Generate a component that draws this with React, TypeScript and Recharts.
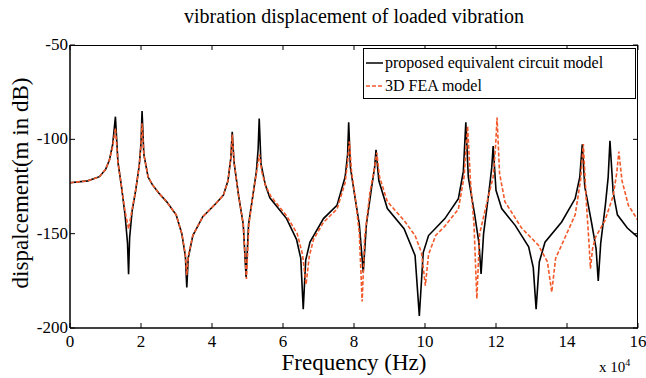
import React from "react";
import { LineChart, Line, XAxis, YAxis } from "recharts";

// frequency in units of 1e4 Hz, displacement in dB
const circuitFreq = [
  0, 0.5, 0.83, 1.0, 1.11, 1.2, 1.28, 1.35, 1.45, 1.55, 1.62, 1.65, 1.68, 1.75, 1.85, 1.95, 2.0, 2.03,
  2.08, 2.2, 2.32, 2.5, 2.72, 2.99, 3.15, 3.25, 3.29, 3.33, 3.46, 3.74, 4.11, 4.32, 4.45, 4.53, 4.57,
  4.62, 4.75, 4.88, 4.96, 5.03, 5.15, 5.25, 5.3, 5.33, 5.38, 5.5, 5.63, 6.1, 6.38, 6.5, 6.57, 6.64,
  6.76, 7.14, 7.52, 7.75, 7.82, 7.85, 7.9, 8.03, 8.15, 8.26, 8.35, 8.5, 8.58, 8.62, 8.7, 8.94, 9.41,
  9.72, 9.84, 9.95, 10.1, 10.56, 10.94, 11.08, 11.15, 11.22, 11.4, 11.52, 11.58, 11.65, 11.8, 11.88,
  11.92, 12.0, 12.16, 12.54, 12.92, 13.05, 13.13, 13.22, 13.38, 13.85, 14.23, 14.36, 14.43, 14.5,
  14.7, 14.82, 14.88, 14.95, 15.08, 15.16, 15.21, 15.3, 15.42, 15.7, 16,
];
const circuitDb = [
  -123, -122, -119.8, -116, -111, -103, -88, -112, -125, -140, -155, -171.5, -152, -138, -127, -114, -102, -85,
  -108, -120, -124, -128.5, -133, -140, -150, -162, -178.5, -163, -151, -141, -134, -129.6, -122, -110, -96,
  -112, -130, -145, -173, -145, -130, -117, -105, -89, -113, -124, -131, -142, -153, -163, -190, -164,
  -154.5, -142, -135, -120, -108, -91, -115, -131, -145, -170.5, -145, -125, -115, -105.6, -122, -136.7, -147.4,
  -161.6, -193.6, -160, -151, -142, -131.4, -117, -91, -120, -140, -155, -171.4, -150, -128, -115,
  -103.5, -127, -136.7, -145.6, -157, -168, -190, -165, -154.5, -143.8, -131.4, -120, -102.6, -125,
  -145, -158, -175, -155, -135, -120, -100.8, -128, -140, -147, -152,
];

const feaFreq = [
  0, 0.5, 0.83, 1.0, 1.11, 1.2, 1.28, 1.35, 1.45, 1.55, 1.65, 1.75, 1.85, 1.95, 2.0, 2.03,
  2.08, 2.2, 2.32, 2.5, 2.72, 2.99, 3.15, 3.25, 3.29, 3.33, 3.46, 3.74, 4.11, 4.32, 4.45, 4.53, 4.57,
  4.62, 4.75, 4.88, 4.97, 5.04, 5.15, 5.25, 5.3, 5.34, 5.4, 5.5, 5.65, 6.1, 6.4, 6.55, 6.65, 6.74,
  6.86, 7.14, 7.52, 7.75, 7.82, 7.87, 7.93, 8.05, 8.15, 8.23, 8.3, 8.45, 8.58, 8.64, 8.72, 8.94, 9.41,
  9.72, 9.9, 10.01, 10.1, 10.3, 10.56, 10.94, 11.1, 11.2, 11.28, 11.38, 11.46, 11.54, 11.75, 11.92,
  11.99, 12.03, 12.1, 12.25, 12.72, 13.19, 13.45, 13.57, 13.68, 13.85, 14.23, 14.38, 14.46, 14.55,
  14.62, 14.66, 14.72, 14.8, 15.07, 15.3, 15.4, 15.46, 15.55, 15.73, 16,
];
const feaDb = [
  -123, -122, -119.8, -116, -111, -104, -94, -112, -125, -138, -147.5, -137, -127, -114, -103, -91.5,
  -108, -120, -124, -128.5, -133, -140, -150, -161, -172, -162, -151, -141, -134, -129.6, -122, -110, -97.5,
  -112, -130, -145, -174, -145, -130, -118, -112, -108, -117, -124, -130, -140.5, -150, -161, -177, -162,
  -153, -144, -137, -123, -112, -101, -117, -133, -150, -186, -152, -128, -115, -107, -120, -133, -143,
  -151, -160, -177.5, -161, -151, -146, -137, -120, -93, -122, -145, -184.5, -150, -133, -120,
  -103, -88.5, -118, -133, -147, -156, -165, -181, -163, -156, -140, -122, -102.5, -135,
  -155, -168.5, -158, -152, -143, -130, -118, -106.5, -122, -135, -143,
];

const xTicks = [0, 2, 4, 6, 8, 10, 12, 14, 16];
const yTicks = [-200, -150, -100, -50];

const circuitData = circuitFreq.map((f, i) => ({ f, db: circuitDb[i] }));
const feaData = feaFreq.map((f, i) => ({ f, db: feaDb[i] }));

const FONT = "Liberation Serif, Times New Roman, serif";
const RED = "#f2592a";

// plot box (matches chart margins below)
const PLOT = { left: 70, top: 45, right: 638, bottom: 328 };

const XTick = ({ x, payload }: any) => (
  <g>
    <line x1={x} x2={x} y1={PLOT.bottom} y2={PLOT.bottom - 5} stroke="#000" />
    <line x1={x} x2={x} y1={PLOT.top} y2={PLOT.top + 5} stroke="#000" />
    <text x={x} y={PLOT.bottom + 19} textAnchor="middle" style={{ fontFamily: FONT, fontSize: 17 }} fill="#000">
      {payload.value}
    </text>
  </g>
);

const YTick = ({ y, payload }: any) => (
  <g>
    <line x1={PLOT.left} x2={PLOT.left + 5} y1={y} y2={y} stroke="#000" />
    <line x1={PLOT.right} x2={PLOT.right - 5} y1={y} y2={y} stroke="#000" />
    <text x={PLOT.left - 2} y={y + 5} textAnchor="end" style={{ fontFamily: FONT, fontSize: 17 }} fill="#000">
      {payload.value}
    </text>
  </g>
);

const LegendBox = () => (
  <div
    style={{
      position: "absolute",
      left: 363,
      top: 48,
      border: "1.5px solid #000",
      background: "#fff",
      width: 273,
      height: 51,
      fontFamily: FONT,
      fontSize: 16,
      color: "#000",
      lineHeight: "23px",
      padding: "2px 0 0 2px",
      boxSizing: "border-box",
    }}
  >
    <div style={{ display: "flex", alignItems: "center" }}>
      <svg width={17} height={4} style={{ marginRight: 2 }}>
        <line x1={0} y1={2} x2={17} y2={2} stroke="#000" strokeWidth={1.5} />
      </svg>
      proposed equivalent circuit model
    </div>
    <div style={{ display: "flex", alignItems: "center" }}>
      <svg width={17} height={4} style={{ marginRight: 2 }}>
        <line x1={0} y1={2} x2={17} y2={2} stroke={RED} strokeWidth={1.5} strokeDasharray="4 2" />
      </svg>
      3D FEA model
    </div>
  </div>
);

export default function App() {
  return (
    <div style={{ position: "absolute", left: 0, top: 0, width: 646, height: 378, background: "#fff", fontFamily: FONT }}>
      <div style={{ position: "absolute", top: 5, left: 70, width: 568, textAlign: "center", fontSize: 20, fontFamily: FONT }}>
        vibration displacement of loaded vibration
      </div>
      <LineChart width={646} height={378} margin={{ top: PLOT.top, right: 8, bottom: 0, left: 0 }}>
        <XAxis
          dataKey="f"
          type="number"
          domain={[0, 16]}
          ticks={xTicks}
          allowDataOverflow
          tickLine={false}
          stroke="#000"
          strokeWidth={1.5}
          height={50}
          tick={<XTick />}
        />
        <YAxis
          type="number"
          domain={[-200, -50]}
          ticks={yTicks}
          allowDataOverflow
          tickLine={false}
          width={70}
          stroke="#000"
          strokeWidth={1.5}
          tick={<YTick />}
        />
        <Line
          data={circuitData}
          dataKey="db"
          type="linear"
          stroke="#000"
          strokeWidth={1.6}
          dot={false}
          isAnimationActive={false}
        />
        <Line
          data={feaData}
          dataKey="db"
          type="linear"
          stroke={RED}
          strokeWidth={1.6}
          strokeDasharray="4 2"
          dot={false}
          isAnimationActive={false}
        />
      </LineChart>
      {/* top and right frame lines */}
      <div
        style={{
          position: "absolute",
          left: PLOT.left,
          top: PLOT.top,
          width: PLOT.right - PLOT.left,
          height: PLOT.bottom - PLOT.top,
          borderTop: "1px solid #000",
          borderRight: "1.5px solid #000",
          boxSizing: "border-box",
          pointerEvents: "none",
        }}
      />
      <LegendBox />
      <div style={{ position: "absolute", top: 351, left: 70, width: 568, textAlign: "center", fontSize: 23, lineHeight: "24px", fontFamily: FONT }}>
        Frequency (Hz)
      </div>
      <div
        style={{
          position: "absolute",
          left: 21,
          top: 183,
          transform: "translate(-50%, -50%) rotate(-90deg)",
          whiteSpace: "nowrap",
          fontSize: 23,
          fontFamily: FONT,
        }}
      >
        dispalcement(m in dB)
      </div>
      <div style={{ position: "absolute", left: 599, top: 357, fontSize: 15, fontFamily: FONT }}>
        x 10<sup style={{ fontSize: 10, verticalAlign: "6px" }}>4</sup>
      </div>
    </div>
  );
}
